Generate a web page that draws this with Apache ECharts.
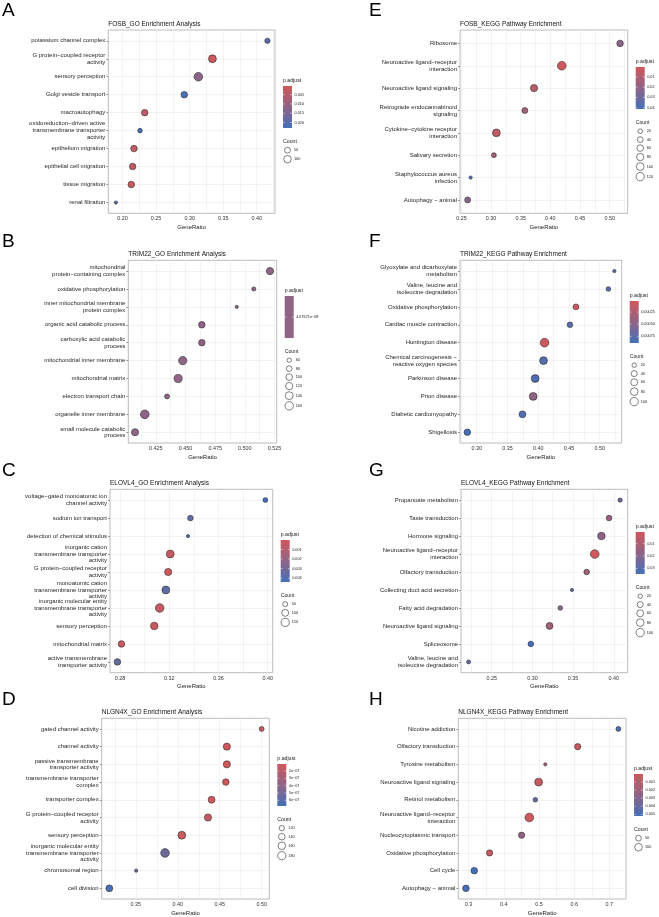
<!DOCTYPE html>
<html>
<head>
<meta charset="utf-8">
<script src="https://cdn.jsdelivr.net/npm/echarts@6/dist/echarts.min.js"></script>
<style>
  html, body { margin: 0; padding: 0; background: #fff; }
  #main { width: 659px; height: 917px; }
</style>
</head>
<body>
<div id="main"></div>
<script>
// ---- A: FOSB GO ----
const termsA = ['potassium channel complex', 'G protein\u2212coupled receptor\nactivity', 'sensory perception',
  'Golgi vesicle transport', 'macroautophagy', 'oxidoreduction\u2212driven active\ntransmembrane transporter\nactivity',
  'epithelium migration', 'epithelial cell migration', 'tissue migration', 'renal filtration'];
const ratioA = [0.416, 0.334, 0.313, 0.292, 0.233, 0.226, 0.217, 0.215, 0.213, 0.190];
const countA = [37, 111, 147, 66, 66, 27, 66, 65, 67, 19];
const padjA = [0.0205, 0.0003, 0.0120, 0.0220, 0.0030, 0.0230, 0.0020, 0.0022, 0.0021, 0.0215];
const xTicksA = [0.20, 0.25, 0.30, 0.35, 0.40];
const padjBreaksA = [0.005, 0.010, 0.015, 0.020];
const padjLabelsA = ['0.005', '0.010', '0.015', '0.020'];
const countBreaksA = [50, 100];

// ---- E: FOSB KEGG ----
const termsE = ['Ribosome', 'Neuroactive ligand\u2212receptor\ninteraction', 'Neuroactive ligand signaling',
  'Retrograde endocannabinoid\nsignaling', 'Cytokine\u2212cytokine receptor\ninteraction', 'Salivary secretion',
  'Staphylococcus aureus\ninfection', 'Autophagy \u2212 animal'];
const ratioE = [0.5176, 0.4193, 0.3725, 0.357, 0.309, 0.3048, 0.2656, 0.2605];
const countE = [58, 135, 77, 42, 101, 24, 12, 42];
const padjE = [0.022, 0.0003, 0.006, 0.015, 0.005, 0.013, 0.0413, 0.022];
const xTicksE = [0.25, 0.30, 0.35, 0.40, 0.45, 0.50];
const padjBreaksE = [0.01, 0.02, 0.03, 0.04];
const padjLabelsE = ['0.01', '0.02', '0.03', '0.04'];
const countBreaksE = [20, 40, 60, 80, 100, 120];

// ---- B: TRIM22 GO ----
const termsB = ['mitochondrial\nprotein\u2212containing complex', 'oxidative phosphorylation',
  'inner mitochondrial membrane\nprotein complex', 'organic acid catabolic process',
  'carboxylic acid catabolic\nprocess', 'mitochondrial inner membrane', 'mitochondrial matrix',
  'electron transport chain', 'organelle inner membrane', 'small molecule catabolic\nprocess'];
const ratioB = [0.5212, 0.5076, 0.4932, 0.4638, 0.4638, 0.4477, 0.4438, 0.4345, 0.4157, 0.4075];
const countB = [118, 58, 55, 98, 97, 155, 150, 67, 170, 115];
const padjB = [4.67671e-8, 4.67671e-8, 4.67671e-8, 4.67671e-8, 4.67671e-8, 4.67671e-8, 4.67671e-8, 4.67671e-8, 4.67671e-8, 4.67671e-8];
const xTicksB = [0.425, 0.450, 0.475, 0.500, 0.525];
const padjBreaksB = [4.67671e-8];
const padjLabelsB = ['4.67671e\u221208'];
const countBreaksB = [60, 80, 100, 120, 140, 160];

// ---- F: TRIM22 KEGG ----
const termsF = ['Glyoxylate and dicarboxylate\nmetabolism', 'Valine, leucine and\nisoleucine degradation',
  'Oxidative phosphorylation', 'Cardiac muscle contraction', 'Huntington disease',
  'Chemical carcinogenesis \u2212\nreactive oxygen species', 'Parkinson disease', 'Prion disease',
  'Diabetic cardiomyopathy', 'Shigellosis'];
const ratioF = [0.5238, 0.5141, 0.4614, 0.4516, 0.4103, 0.4087, 0.3951, 0.3919, 0.3744, 0.2848];
const countF = [15, 21, 38, 33, 110, 83, 83, 82, 58, 50];
const padjF = [0.00085, 0.00080, 0.00005, 0.00078, 0.00002, 0.00080, 0.00083, 0.00045, 0.00082, 0.00089];
const xTicksF = [0.30, 0.35, 0.40, 0.45, 0.50];
const padjBreaksF = [0.00025, 0.00050, 0.00075];
const padjLabelsF = ['0.00025', '0.00050', '0.00075'];
const countBreaksF = [20, 40, 60, 80, 100];

// ---- C: ELOVL4 GO ----
const termsC = ['voltage\u2212gated monoatomic ion\nchannel activity', 'sodium ion transport',
  'detection of chemical stimulus', 'inorganic cation\ntransmembrane transporter\nactivity',
  'G protein\u2212coupled receptor\nactivity', 'monoatomic cation\ntransmembrane transporter\nactivity',
  'inorganic molecular entity\ntransmembrane transporter\nactivity', 'sensory perception',
  'mitochondrial matrix', 'active transmembrane\ntransporter activity'];
const ratioC = [0.3981, 0.3372, 0.3352, 0.3208, 0.3191, 0.3172, 0.3122, 0.3078, 0.2811, 0.2778];
const countC = [48, 62, 35, 136, 109, 136, 175, 122, 87, 87];
const padjC = [0.0044, 0.0036, 0.0043, 0.0002, 0.00001, 0.0036, 0.0004, 0.0002, 0.0003, 0.0035];
const xTicksC = [0.28, 0.32, 0.36, 0.40];
const padjBreaksC = [0.001, 0.002, 0.003, 0.004];
const padjLabelsC = ['0.001', '0.002', '0.003', '0.004'];
const countBreaksC = [50, 100, 150];

// ---- G: ELOVL4 KEGG ----
const termsG = ['Propanoate metabolism', 'Taste transduction', 'Hormone signaling',
  'Neuroactive ligand\u2212receptor\ninteraction', 'Olfactory transduction', 'Collecting duct acid secretion',
  'Fatty acid degradation', 'Neuroactive ligand signaling', 'Spliceosome',
  'Valine, leucine and\nisoleucine degradation'];
const ratioG = [0.4078, 0.3942, 0.3848, 0.3766, 0.3667, 0.3486, 0.3343, 0.3211, 0.2981, 0.2216];
const countG = [19, 33, 74, 110, 33, 15, 21, 58, 33, 17];
const padjG = [0.025, 0.015, 0.018, 0.0006, 0.013, 0.028, 0.020, 0.012, 0.0345, 0.027];
const xTicksG = [0.25, 0.30, 0.35, 0.40];
const padjBreaksG = [0.01, 0.02, 0.03];
const padjLabelsG = ['0.01', '0.02', '0.03'];
const countBreaksG = [20, 40, 60, 80, 100];

// ---- D: NLGN4X GO ----
const termsD = ['gated channel activity', 'channel activity', 'passive transmembrane\ntransporter activity',
  'transmembrane transporter\ncomplex', 'transporter complex', 'G protein\u2212coupled receptor\nactivity',
  'sensory perception', 'inorganic molecular entity\ntransmembrane transporter\nactivity',
  'chromosomal region', 'cell division'];
const ratioD = [0.500, 0.4585, 0.4585, 0.4573, 0.4403, 0.4360, 0.4048, 0.3848, 0.3504, 0.3184];
const countD = [116, 151, 151, 138, 145, 151, 167, 190, 108, 145];
const padjD = [1.2e-7, 1.04e-7, 1.05e-7, 1.1e-7, 1.1e-7, 1.3e-7, 1.2e-7, 5.2e-7, 5.0e-7, 6.78e-7];
const xTicksD = [0.35, 0.40, 0.45, 0.50];
const padjBreaksD = [2e-7, 3e-7, 4e-7, 5e-7, 6e-7];
const padjLabelsD = ['2e\u221207', '3e\u221207', '4e\u221207', '5e\u221207', '6e\u221207'];
const countBreaksD = [120, 140, 160, 180];

// ---- H: NLGN4X KEGG ----
const termsH = ['Nicotine addiction', 'Olfactory transduction', 'Tyrosine metabolism',
  'Neuroactive ligand signaling', 'Retinol metabolism', 'Neuroactive ligand\u2212receptor\ninteraction',
  'Nucleocytoplasmic transport', 'Oxidative phosphorylation', 'Cell cycle', 'Autophagy \u2212 animal'];
const ratioH = [0.7256, 0.6099, 0.518, 0.499, 0.4896, 0.4725, 0.4507, 0.3597, 0.3161, 0.2924];
const countH = [36, 60, 25, 108, 32, 140, 60, 60, 68, 68];
const padjH = [0.0048, 0.0003, 0.0015, 0.0004, 0.0042, 0.00001, 0.0025, 0.0005, 0.0052, 0.0050];
const xTicksH = [0.3, 0.4, 0.5, 0.6, 0.7];
const padjBreaksH = [0.001, 0.002, 0.003, 0.004, 0.005];
const padjLabelsH = ['0.001', '0.002', '0.003', '0.004', '0.005'];
const countBreaksH = [50, 100];

const RED = '#cf585c', MID = '#8f6486', BLUE = '#4470b8';
const FONT = '"Liberation Sans", Arial, sans-serif';

// panel layout: box edges (px) + legend top
const panels = [
  {letter: 'A', title: 'FOSB_GO Enrichment Analysis', terms: termsA, ratio: ratioA, count: countA, padj: padjA,
    xt: xTicksA, dec: 2, pb: padjBreaksA, pl: padjLabelsA, cb: countBreaksA, box: [108.3, 30, 275, 213.3], ly: 81, lx0: 2},
  {letter: 'E', title: 'FOSB_KEGG Pathway Enrichment', terms: termsE, ratio: ratioE, count: countE, padj: padjE,
    xt: xTicksE, dec: 2, pb: padjBreaksE, pl: padjLabelsE, cb: countBreaksE, box: [460, 30, 627.7, 213.3], ly: 62, lx0: 369},
  {letter: 'B', title: 'TRIM22_GO Enrichment Analysis', terms: termsB, ratio: ratioB, count: countB, padj: padjB,
    xt: xTicksB, dec: 3, pb: padjBreaksB, pl: padjLabelsB, cb: countBreaksB, box: [128.3, 260.3, 276.7, 443], ly: 291, lx0: 2},
  {letter: 'F', title: 'TRIM22_KEGG Pathway Enrichment', terms: termsF, ratio: ratioF, count: countF, padj: padjF,
    xt: xTicksF, dec: 2, pb: padjBreaksF, pl: padjLabelsF, cb: countBreaksF, box: [460, 260.3, 621.7, 443], ly: 296, lx0: 369},
  {letter: 'C', title: 'ELOVL4_GO Enrichment Analysis', terms: termsC, ratio: ratioC, count: countC, padj: padjC,
    xt: xTicksC, dec: 2, pb: padjBreaksC, pl: padjLabelsC, cb: countBreaksC, box: [110, 489.3, 272.7, 672.7], ly: 535, lx0: 2},
  {letter: 'G', title: 'ELOVL4_KEGG Pathway Enrichment', terms: termsG, ratio: ratioG, count: countG, padj: padjG,
    xt: xTicksG, dec: 2, pb: padjBreaksG, pl: padjLabelsG, cb: countBreaksG, box: [461, 489.3, 627.7, 672.7], ly: 527, lx0: 369},
  {letter: 'D', title: 'NLGN4X_GO Enrichment Analysis', terms: termsD, ratio: ratioD, count: countD, padj: padjD,
    xt: xTicksD, dec: 2, pb: padjBreaksD, pl: padjLabelsD, cb: countBreaksD, box: [101.7, 718.3, 269.3, 901], ly: 759, lx0: 2},
  {letter: 'H', title: 'NLGN4X_KEGG Pathway Enrichment', terms: termsH, ratio: ratioH, count: countH, padj: padjH,
    xt: xTicksH, dec: 1, pb: padjBreaksH, pl: padjLabelsH, cb: countBreaksH, box: [458.3, 718.3, 626, 901], ly: 769, lx0: 369}
];

// ggplot-like size scale: range 3..8, sqrt area
function sizeFn(c, cmin, cmax) {
  const t = cmax > cmin ? Math.max(0, (c - cmin) / (cmax - cmin)) : 0.5;
  return 1.08 * (3 + 5 * Math.sqrt(t));
}

function txt(x, y, text, size, color, align) {
  return {type: 'text', x: x, y: y, silent: true,
    style: {text: text, fontSize: size, fontFamily: FONT, fill: color || '#222', align: align || 'left', verticalAlign: 'middle'}};
}

const grids = [], xAxes = [], yAxes = [], series = [], visualMaps = [], graphics = [];

panels.forEach(function (p, i) {
  const [l, t, r, b] = p.box;
  const n = p.terms.length;
  const xmin0 = Math.min(...p.ratio), xmax0 = Math.max(...p.ratio);
  const ext = (xmax0 - xmin0) * 0.05;
  const xmin = xmin0 - ext, xmax = xmax0 + ext;
  const step = p.xt[1] - p.xt[0];
  const minors = [];
  for (let k = -1; k < p.xt.length; k++) {
    const v = p.xt[0] + (k + 0.5) * step;
    if (v > xmin && v < xmax) minors.push(v);
  }
  const cmin = Math.min(...p.count), cmax = Math.max(...p.count);
  let pmin = Math.min(...p.padj), pmax = Math.max(...p.padj);
  const single = pmin === pmax;
  if (single) { pmin = pmin * 0.5; pmax = pmax * 1.5; }
  const idx = p.terms.map((_, j) => j);

  grids.push({left: l, top: t, width: r - l, height: b - t, show: true,
    borderColor: '#ababab', borderWidth: 0.8, backgroundColor: '#fff'});

  xAxes.push({
    gridIndex: i, type: 'value', min: xmin, max: xmax,
    axisLine: {show: false},
    axisTick: {show: false, customValues: p.xt.concat(minors)},
    splitLine: {show: true, lineStyle: {color: '#ebebeb', width: 0.6}},
    axisLabel: {customValues: p.xt, formatter: v => v.toFixed(p.dec), fontSize: 5.4, color: '#333', margin: 3, fontFamily: FONT},
    name: 'GeneRatio', nameLocation: 'middle', nameGap: 11,
    nameTextStyle: {fontSize: 6, color: '#1a1a1a', fontFamily: FONT}
  });

  yAxes.push({
    gridIndex: i, type: 'value', inverse: true, min: -0.6, max: n - 0.4,
    axisLine: {show: false},
    axisTick: {show: true, length: 2, customValues: idx, lineStyle: {color: '#555', width: 0.6}},
    splitLine: {show: true, lineStyle: {color: '#ebebeb', width: 0.6}},
    axisLabel: {customValues: idx, formatter: v => p.terms[Math.round(v)], fontSize: 6, lineHeight: 6.8,
      color: '#1f1f1f', margin: 3, align: 'right', fontFamily: FONT}
  });

  series.push({
    type: 'scatter', xAxisIndex: i, yAxisIndex: i,
    data: p.ratio.map((x, j) => [x, j, p.count[j], p.padj[j]]),
    symbolSize: d => sizeFn(d[2], cmin, cmax),
    itemStyle: {borderColor: '#2b2b2b', borderWidth: 0.6, opacity: 1},
    emphasis: {disabled: true}, silent: true
  });

  visualMaps.push({type: 'continuous', show: false, seriesIndex: i, dimension: 3,
    min: pmin, max: pmax, inRange: {color: [RED, MID, BLUE]}});

  // titles
  graphics.push(txt(p.lx0, t - 19, p.letter, 19, '#000'));
  graphics.push(txt(l, t - 6, p.title, 6.5, '#111'));

  // colour bar legend
  const lx = r + 8, ly = p.ly, barTop = ly + 5, barH = 42, barW = 9;
  graphics.push(txt(lx, ly, 'p.adjust', 5.2, '#1a1a1a'));
  graphics.push({type: 'rect', silent: true, shape: {x: lx, y: barTop, width: barW, height: barH},
    style: {fill: single ? MID : new echarts.graphic.LinearGradient(0, 0, 0, 1, [
      {offset: 0, color: RED}, {offset: 0.5, color: MID}, {offset: 1, color: BLUE}])}});
  p.pb.forEach(function (v, k) {
    const yy = barTop + (v - pmin) / (pmax - pmin) * barH;
    graphics.push({type: 'line', silent: true, shape: {x1: lx, y1: yy, x2: lx + 1.8, y2: yy}, style: {stroke: '#fff', lineWidth: 0.5}});
    graphics.push({type: 'line', silent: true, shape: {x1: lx + barW - 1.8, y1: yy, x2: lx + barW, y2: yy}, style: {stroke: '#fff', lineWidth: 0.5}});
    graphics.push(txt(lx + barW + 2.5, yy, p.pl[k], 3.8, '#222'));
  });

  // size legend
  const cTitle = barTop + barH + 14;
  graphics.push(txt(lx, cTitle, 'Count', 5.2, '#1a1a1a'));
  let cur = cTitle + 4;
  p.cb.forEach(function (c) {
    const d = sizeFn(c, cmin, cmax);
    const h = Math.max(8.4, d + 2);
    const cy = cur + h / 2;
    graphics.push({type: 'circle', silent: true, shape: {cx: lx + 4.5, cy: cy, r: d / 2},
      style: {fill: '#fff', stroke: '#2b2b2b', lineWidth: 0.6}});
    graphics.push(txt(lx + 11, cy, String(c), 3.8, '#222'));
    cur += h;
  });
});

const chart = echarts.init(document.getElementById('main'), null, {renderer: 'canvas'});
chart.setOption({
  backgroundColor: '#fff',
  animation: false,
  textStyle: {fontFamily: FONT},
  grid: grids,
  xAxis: xAxes,
  yAxis: yAxes,
  visualMap: visualMaps,
  series: series,
  graphic: {elements: graphics}
});
</script>
</body>
</html>
